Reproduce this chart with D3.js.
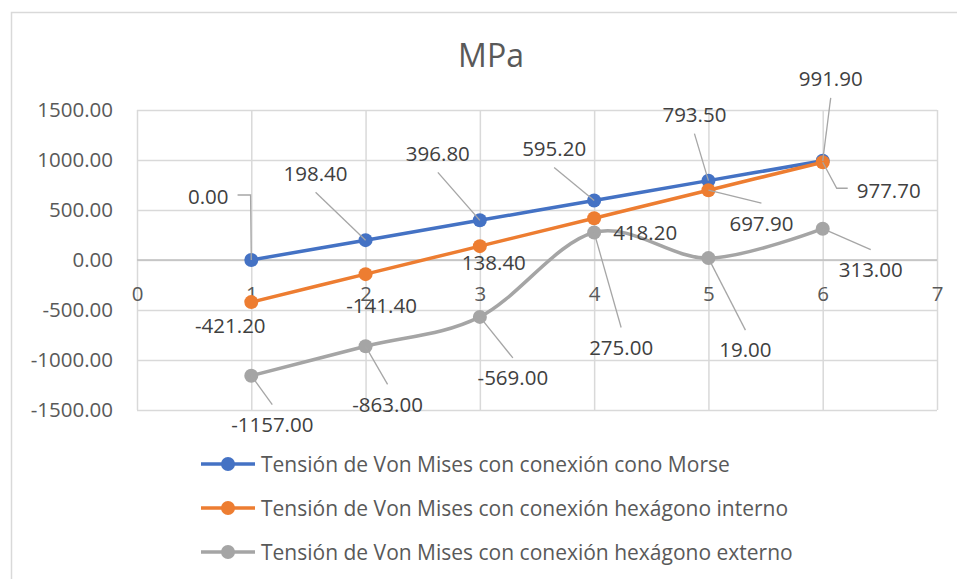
<!DOCTYPE html>
<html>
<head>
<meta charset="utf-8">
<script src="https://cdn.jsdelivr.net/npm/d3@7"></script>
<style>
  body { margin: 0; background: #fff; }
  svg { display: block; font-family: "Open Sans", sans-serif; }
</style>
</head>
<body>
<svg id="chart" width="957" height="579"></svg>
<script>
// data
var xs = [1, 2, 3, 4, 5, 6];
var morse = [0.00, 198.40, 396.80, 595.20, 793.50, 991.90];
var interno = [-421.20, -141.40, 138.40, 418.20, 697.90, 977.70];
var externo = [-1157.00, -863.00, -569.00, 275.00, 19.00, 313.00];
var names = [
  "Tensión de Von Mises con conexión cono Morse",
  "Tensión de Von Mises con conexión hexágono interno",
  "Tensión de Von Mises con conexión hexágono externo"
];
var xTicks = [0, 1, 2, 3, 4, 5, 6, 7];
var yTicks = [-1500, -1000, -500, 0, 500, 1000, 1500];

// label placement (pixel offset of label centre from its point) + leader kind
var offMorse = [[-43, -63], [-50, -67], [-42, -67], [-40, -52], [-14, -66], [8, -82]];
var offInterno = [[-21, 23], [16, 31], [14, 16], [51, 14], [53, 33], [66, 28]];
var offExterno = [[21, 49], [22, 58], [33, 61], [27, 115], [37, 92], [48, 41]];
var leadMorse = ["r", "b", "b", "b", "b", "b"];
var leadInterno = [null, null, null, null, "t", "l"];
var leadExterno = ["t", "t", "t", "t", "t", "t"];

var colors = ["#4472C4", "#ED7D31", "#A5A5A5"];

var series = [
  {name: names[0], values: morse, color: colors[0], off: offMorse, lead: leadMorse},
  {name: names[1], values: interno, color: colors[1], off: offInterno, lead: leadInterno},
  {name: names[2], values: externo, color: colors[2], off: offExterno, lead: leadExterno}
];

var svg = d3.select("#chart");
var plotL = 137, plotR = 937, plotT = 110, plotB = 410;

var loc = d3.formatLocale({decimal: ".", thousands: "", grouping: [3], currency: ["", ""], minus: "-"});
var fmt = loc.format(".2f");

var x = d3.scaleLinear().domain([0, 7]).range([plotL, plotR]);
var y = d3.scaleLinear().domain([-1500, 1500]).range([plotB, plotT]);

// outer chart border
svg.append("rect")
  .attr("x", 11.5).attr("y", 12.5)
  .attr("width", 1000).attr("height", 700)
  .attr("fill", "none")
  .attr("stroke", "#d9d9d9")
  .attr("stroke-width", 1.5);

// title
svg.append("text")
  .attr("x", 491).attr("y", 67)
  .attr("text-anchor", "middle")
  .style("font-size", "32px")
  .style("fill", "#595959")
  .text("MPa");

// gridlines
var gy = svg.append("g")
  .attr("transform", "translate(" + plotL + ",0)")
  .call(d3.axisLeft(y).tickValues(yTicks).tickSize(-(plotR - plotL)).tickFormat(""));
gy.select(".domain").remove();
gy.selectAll("line").attr("stroke", "#d9d9d9").attr("stroke-width", 1.5);

var gx = svg.append("g")
  .attr("transform", "translate(0," + plotB + ")")
  .call(d3.axisBottom(x).tickValues(xTicks).tickSize(-(plotB - plotT)).tickFormat(""));
gx.select(".domain").remove();
gx.selectAll("line").attr("stroke", "#d9d9d9").attr("stroke-width", 1.5);

// zero line
svg.append("line")
  .attr("x1", plotL).attr("x2", plotR)
  .attr("y1", y(0)).attr("y2", y(0))
  .attr("stroke", "#bfbfbf").attr("stroke-width", 1.5);

// y axis labels
var ay = svg.append("g")
  .attr("transform", "translate(" + plotL + ",0)")
  .call(d3.axisLeft(y).tickValues(yTicks).tickSize(0).tickPadding(24).tickFormat(fmt));
ay.select(".domain").remove();
ay.selectAll("text").style("font-size", "20.5px").style("fill", "#595959")
  .style("font-family", "Open Sans, sans-serif");

// x axis labels on the zero line
var ax = svg.append("g")
  .attr("transform", "translate(0," + y(0) + ")")
  .call(d3.axisBottom(x).tickValues(xTicks).tickSize(0).tickPadding(26).tickFormat(d3.format("d")));
ax.select(".domain").remove();
ax.selectAll("text").style("font-size", "20.5px").style("fill", "#595959")
  .style("font-family", "Open Sans, sans-serif");

// series lines and markers
var line = d3.line()
  .x(function(d) { return x(d[0]); })
  .y(function(d) { return y(d[1]); })
  .curve(d3.curveCatmullRom.alpha(0));

series.forEach(function(s) {
  var pts = xs.map(function(v, i) { return [v, s.values[i]]; });
  svg.append("path")
    .datum(pts)
    .attr("d", line)
    .attr("fill", "none")
    .attr("stroke", s.color)
    .attr("stroke-width", 3.5)
    .attr("stroke-linecap", "round");
  svg.append("g").selectAll("circle")
    .data(pts)
    .enter()
    .append("circle")
    .attr("cx", function(d) { return x(d[0]); })
    .attr("cy", function(d) { return y(d[1]); })
    .attr("r", 7)
    .attr("fill", s.color);
});

// data labels with leader lines
var lead = svg.append("g");
var labels = svg.append("g");
series.forEach(function(s) {
  xs.forEach(function(v, i) {
    var px = x(v), py = y(s.values[i]);
    var lx = px + s.off[i][0], ly = py + s.off[i][1];
    var t = labels.append("text")
      .attr("x", lx).attr("y", ly)
      .attr("dy", "0.36em")
      .attr("text-anchor", "middle")
      .style("font-size", "20.5px")
      .style("fill", "#404040")
      .text(fmt(s.values[i]));
    var kind = s.lead[i];
    if (!kind) return;
    var w = t.node().getComputedTextLength();
    var p;
    if (kind == "b") {
      p = [[lx, ly + 19], [px, py]];
    } else if (kind == "t") {
      p = [[lx, ly - 20], [px, py]];
    } else if (kind == "r") {
      var sx = lx + w / 2 + 9;
      p = [[sx, ly - 2], [sx + 13, ly - 2], [px, py]];
    } else {
      var sx2 = lx - w / 2 - 9;
      p = [[sx2, ly - 2], [sx2 - 11, ly - 2], [px, py]];
    }
    lead.append("path")
      .attr("d", d3.line()(p))
      .attr("fill", "none")
      .attr("stroke", "#a6a6a6")
      .attr("stroke-width", 1.3);
  });
});

// legend
var legend = svg.append("g")
  .selectAll("g")
  .data(series)
  .enter()
  .append("g")
  .attr("transform", function(d, i) { return "translate(0," + (464 + i * 44) + ")"; });

legend.append("line")
  .attr("x1", 201).attr("x2", 255)
  .attr("y1", 0).attr("y2", 0)
  .attr("stroke", function(d) { return d.color; })
  .attr("stroke-width", 3.5);
legend.append("circle")
  .attr("cx", 228).attr("cy", 0).attr("r", 7)
  .attr("fill", function(d) { return d.color; });
legend.append("text")
  .attr("x", 261).attr("y", 0)
  .attr("dy", "0.36em")
  .style("font-size", "21px")
  .style("fill", "#595959")
  .text(function(d) { return d.name; });
</script>
</body>
</html>
